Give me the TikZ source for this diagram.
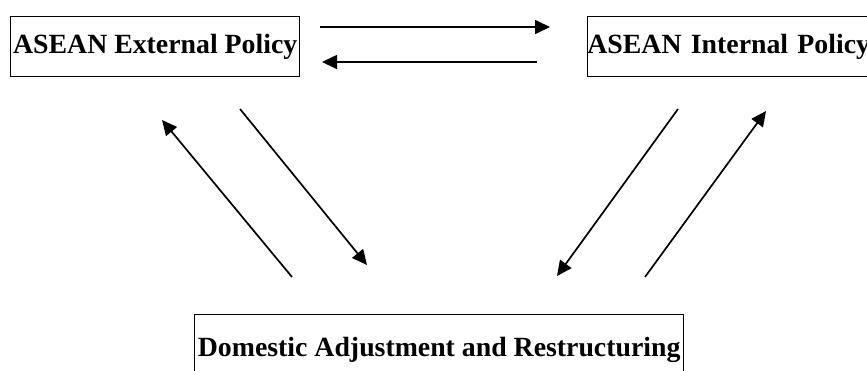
\documentclass[tikz,border=0pt]{standalone}
\usepackage{fontspec}
\setmainfont{Liberation Serif}
\usetikzlibrary{arrows.meta}

\begin{document}
\begin{tikzpicture}[x=1pt,y=-1pt]
\tikzstyle policy=[draw, line width=1.4pt, rectangle, inner sep=1pt,
  font=\fontsize{27.8}{30}\selectfont\bfseries]
\tikzstyle link=[line width=1.7pt, ->, >={Triangle[length=15pt,width=14pt]}]
\useasboundingbox (0,0) rectangle (867,370);

\node[policy, anchor=north west, minimum width=289pt, minimum height=60pt] (ext) at (10,16) {ASEAN External Policy};
\node[policy, anchor=north west, minimum height=60pt, inner xsep=0.2pt, text width=300pt, align=left] (int) at (586.5,16) {ASEAN Internal Policy};
\node[policy, anchor=north west, minimum width=489pt, minimum height=70pt] (dom) at (194,314) {Domestic Adjustment and Restructuring};

% ends of the arrows
\coordinate (eiA) at (320,27);  \coordinate (eiB) at (550,27);
\coordinate (ieA) at (537,62);  \coordinate (ieB) at (322,62);
\coordinate (deA) at (292,277); \coordinate (deB) at (162,120);
\coordinate (edA) at (240,109); \coordinate (edB) at (367,265);
\coordinate (idA) at (678,109); \coordinate (idB) at (557,276);
\coordinate (diA) at (645,277); \coordinate (diB) at (766,111);

\draw[link] (eiA) -- (eiB);
\draw[link] (ieA) -- (ieB);
\draw[link] (deA) -- (deB);
\draw[link] (edA) -- (edB);
\draw[link] (idA) -- (idB);
\draw[link] (diA) -- (diB);
\end{tikzpicture}
\end{document}
